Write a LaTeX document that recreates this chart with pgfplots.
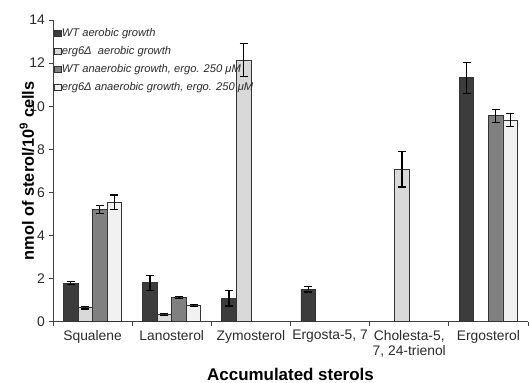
\documentclass[border=0pt]{standalone}
\usepackage{pgfplots}
\pgfplotsset{compat=1.18}
\usepackage{fontspec}
\setmainfont{Liberation Sans}
\definecolor{cA}{HTML}{3C3C3C}
\definecolor{cB}{HTML}{D9D9D9}
\definecolor{cC}{HTML}{808080}
\definecolor{cD}{HTML}{F1F1F1}
\definecolor{txt}{HTML}{2A2A2A}
\begin{document}
\begin{tikzpicture}
\useasboundingbox (-53bp,-61.3bp) rectangle (477bp,321.7bp);
\begin{axis}[
  scale only axis,
  width=475bp, height=301.7bp,
  at={(0,0)}, anchor=south west,
  ybar=0pt, bar width=0.184,
  xmin=-0.5, xmax=5.5, ymin=0, ymax=14,
  axis lines*=left,
  axis line style={black!75, line width=0.8bp},
  tick align=outside,
  xtick={0,1,2,3,4,5},
  major x tick style={draw=none},
  minor xtick={-0.5,0.5,1.5,2.5,3.5,4.5,5.5},
  minor tick length=4bp,
  minor x tick style={black!75, line width=0.8bp},
  ytick={0,2,...,14},
  major tick length=4bp,
  y tick style={black!75, line width=0.8bp},
  xticklabels={Squalene, Lanosterol, Zymosterol, {Ergosta-5, 7}, {Cholesta-5,\\7, 24-trienol}, Ergosterol},
  xticklabel style={align=center, font=\fontsize{13.9}{15.5}\selectfont, text=txt, yshift=-1bp},
  yticklabel style={font=\fontsize{14}{16}\selectfont, text=txt, xshift=-0.5bp},
  /pgf/number format/assume math mode=true,
  every axis x label/.style={at={(axis description cs:0.5,0)}, anchor=center, yshift=-53bp},
  every axis y label/.style={at={([xshift=-26bp]axis description cs:0,0.5)}, rotate=90, anchor=center},
  xlabel={\fontsize{17}{19}\selectfont\bfseries Accumulated sterols},
  ylabel={\fontsize{16.4}{18}\selectfont\bfseries nmol of sterol/10\textsuperscript{9} cells},
  legend style={at={(axis description cs:0,1)}, anchor=north west, xshift=1bp, yshift=-7.5bp,
    draw=none, fill=none, font=\fontsize{11.2}{12}\selectfont\itshape, text=txt,
    row sep=6.3bp, inner sep=0pt, nodes={inner xsep=0.5bp, inner ysep=1bp}},
  legend cell align=left,
  legend image code/.code={\draw[#1, line width=0.6bp] (0bp,-3.3bp) rectangle (6.6bp,3.3bp);},
  every axis plot/.append style={draw=black!80, line width=0.8bp},
  error bars/error bar style={black, line width=1.2bp},
  error bars/error mark options={rotate=90, mark size=4bp, line width=1.2bp, black},
]
\addplot[fill=cA, error bars/.cd, y dir=both, y explicit] coordinates {
  (0,1.78) +- (0,0.07)
  (1,1.81) +- (0,0.35)
  (2,1.08) +- (0,0.35)
  (3,1.50) +- (0,0.12)
  (5,11.32) +- (0,0.72)
};
\addplot[fill=cB, error bars/.cd, y dir=both, y explicit] coordinates {
  (0,0.65) +- (0,0.06)
  (1,0.34) +- (0,0.05)
  (2,12.14) +- (0,0.77)
  (4,7.07) +- (0,0.82)
};
\addplot[fill=cC, error bars/.cd, y dir=both, y explicit] coordinates {
  (0,5.21) +- (0,0.19)
  (1,1.13) +- (0,0.04)
  (5,9.56) +- (0,0.30)
};
\addplot[fill=cD, error bars/.cd, y dir=both, y explicit] coordinates {
  (0,5.55) +- (0,0.33)
  (1,0.74) +- (0,0.04)
  (5,9.36) +- (0,0.30)
};
\legend{WT aerobic growth, erg6Δ~ aerobic growth, {WT anaerobic growth, ergo. 250 μM}, {erg6Δ anaerobic growth, ergo. 250 μM}}
\end{axis}
\end{tikzpicture}
\end{document}
